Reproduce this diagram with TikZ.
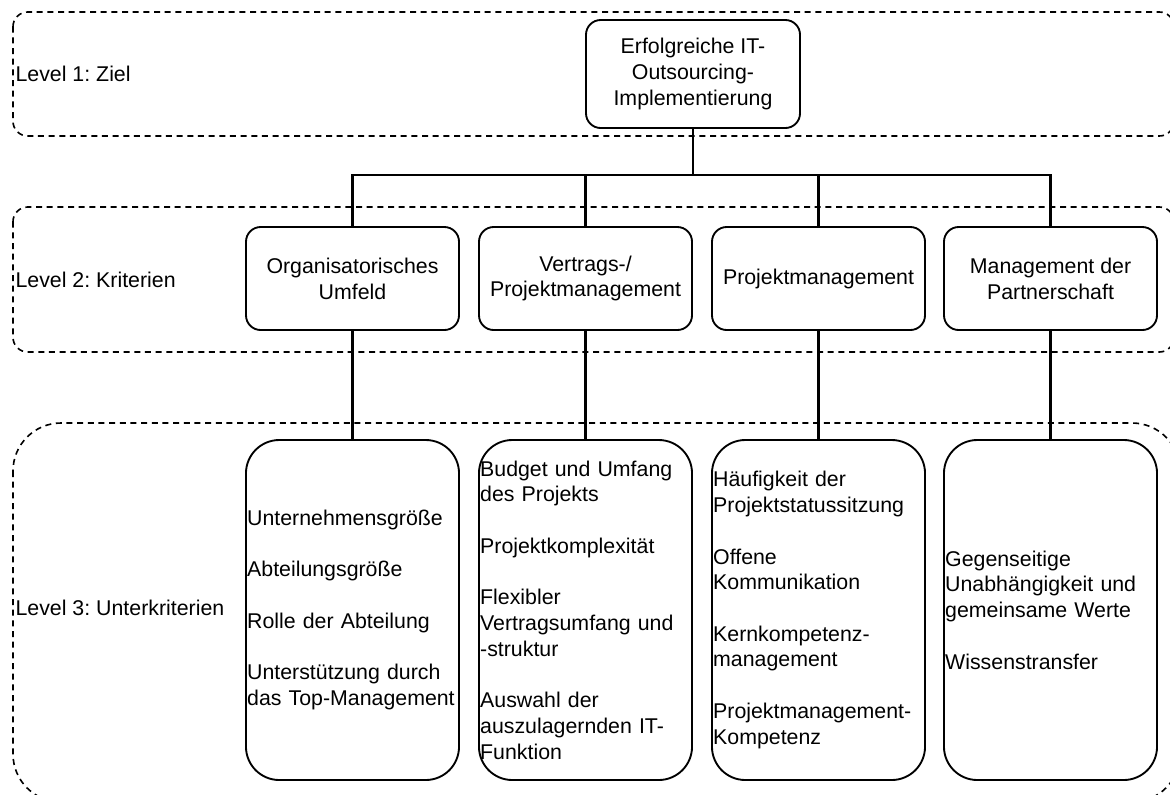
\documentclass[tikz,border=0pt]{standalone}
\usepackage{fontspec}
\setmainfont{Liberation Sans}
\frenchspacing

\begin{document}
\begin{tikzpicture}[x=0.75pt,y=-0.75pt,
    every node/.style={font=\fontsize{16}{19.3}\selectfont},
    region/.style={draw,dash pattern=on 4.5pt off 3.5pt,line width=1.2pt},
    levellabel/.style={anchor=west,inner sep=1pt},
    critbox/.style={draw,line width=1.4pt,rounded corners=11pt,fill=white,align=center,
                    minimum width=159.75pt,minimum height=77.25pt,inner sep=1pt},
    subbox/.style={draw,line width=1.4pt,rounded corners=25pt,fill=white,align=left,
                   text width=158pt,minimum height=255pt,inner xsep=0.9pt,inner ysep=0pt},
    link/.style={line width=1.8pt}]

    \newcommand*{\emptyline}{\\[\baselineskip]}%
    \newcommand*{\critrow}{278.5}%
    \newcommand*{\subrow}{610}%

    \useasboundingbox (0,0) rectangle (1170,794);
    \clip (0,0) rectangle (1170,794);

    % the three levels
    \draw [region, rounded corners=11pt] (13,12) rectangle (1174,136);
    \draw [region, rounded corners=11pt] (13,207) rectangle (1174,352);
    \draw [region, rounded corners=36pt] (13,423) rectangle (1180,802);

    \node [levellabel] (lvl1) at (14,74) {Level 1: Ziel};
    \node [levellabel] (lvl2) at (14,280) {Level 2: Kriterien};
    \node [levellabel] (lvl3) at (14,608) {Level 3: Unterkriterien};

    % goal
    \node [critbox, minimum width=160.5pt, minimum height=81pt] (goal) at (693,74)
        {Erfolgreiche IT-\\Outsourcing-\\Implementierung};
    \coordinate (fork) at (693,175);

    % criteria
    \node [critbox] (crit1) at (352.5,\critrow) {Organisatorisches\\Umfeld};
    \node [critbox] (crit2) at (585.5,\critrow) {Vertrags-/\\Projektmanagement};
    \node [critbox] (crit3) at (818.5,\critrow) {Projektmanagement};
    \node [critbox] (crit4) at (1050.5,\critrow) {Management der\\Partnerschaft};

    % sub-criteria
    \node [subbox] (sub1) at (352.5,\subrow) {Unternehmensgröße\emptyline
        Abteilungsgröße\emptyline
        Rolle der Abteilung\emptyline
        Unterstützung durch\\das Top-Management};
    \node [subbox] (sub2) at (585.5,\subrow) {Budget und Umfang\\des Projekts\emptyline
        Projektkomplexität\emptyline
        Flexibler\\Vertragsumfang und\\-struktur\emptyline
        Auswahl der\\auszulagernden IT-\\Funktion};
    \node [subbox] (sub3) at (818.5,\subrow) {Häufigkeit der\\Projektstatussitzung\emptyline
        Offene\\Kommunikation\emptyline
        Kernkompetenz-\\management\emptyline
        Projektmanagement-\\Kompetenz};
    \node [subbox] (sub4) at (1050.5,\subrow) {Gegenseitige\\Unabhängigkeit und\\gemeinsame Werte\emptyline
        Wissenstransfer};

    \draw [link] (goal.south) -- (fork);
    \foreach \i in {1,...,4}
       {\draw [link] (fork) -| (crit\i.north);
        \draw [link] (crit\i.south) -- (sub\i.north);}

\end{tikzpicture}
\end{document}
